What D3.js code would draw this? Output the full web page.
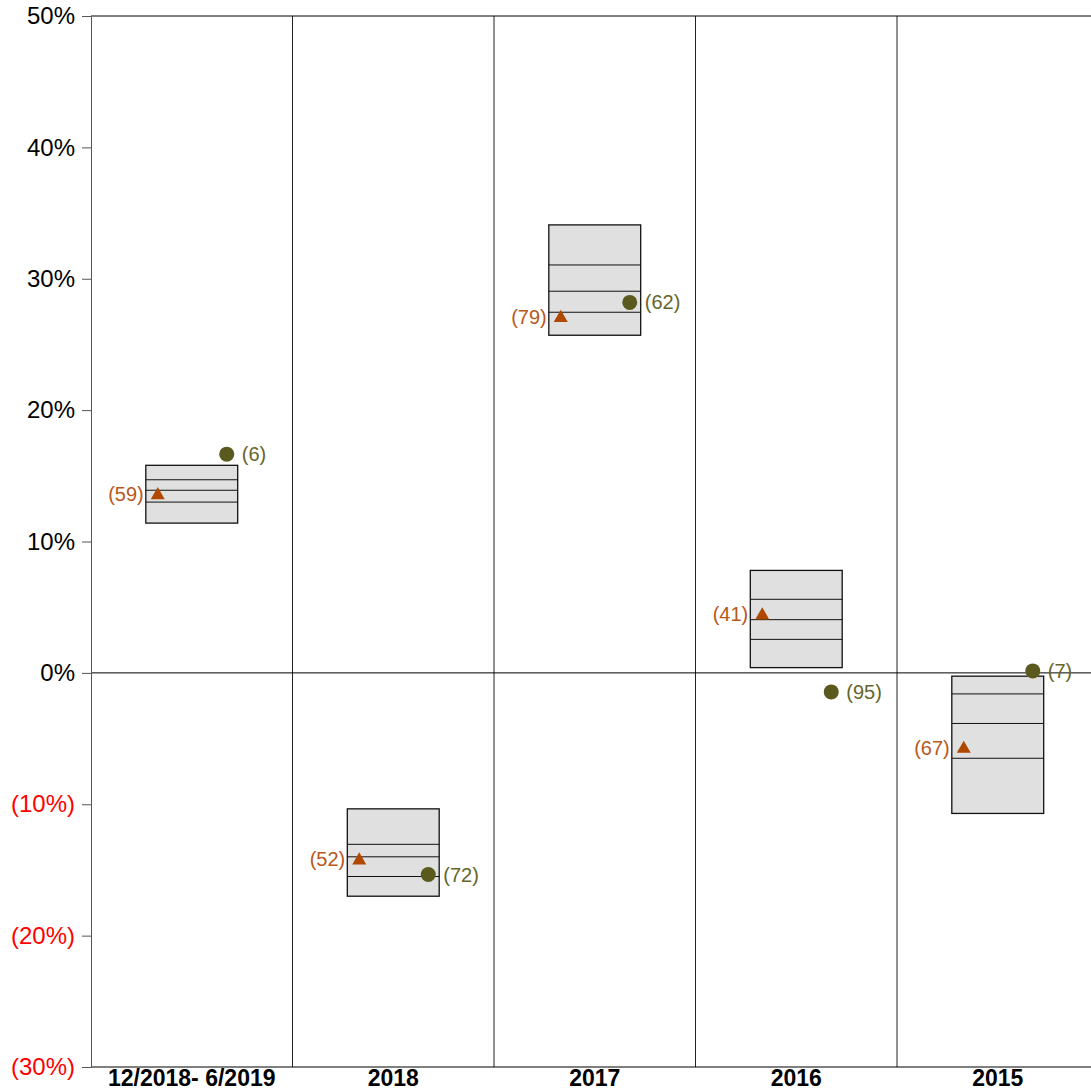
<!DOCTYPE html>
<html>
<head>
<meta charset="utf-8">
<script src="https://cdn.jsdelivr.net/npm/d3@7"></script>
<style>
  html, body { margin: 0; padding: 0; background: #fff; }
  svg { display: block; font-family: "Liberation Sans", Arial, sans-serif; }
</style>
</head>
<body>
<svg id="chart" width="1091" height="1091"></svg>
<script>
// Return ranges by period (percent)
const categories = ["12/2018- 6/2019", "2018", "2017", "2016", "2015"];
const boxTop     = [15.8, -10.35, 34.1, 7.8, -0.25];
const upperLine  = [14.7, -13.05, 31.05, 5.6, -1.6];
const medianLine = [13.9, -14.0, 29.05, 4.05, -3.85];
const lowerLine  = [13.0, -15.5, 27.45, 2.55, -6.5];
const boxBottom  = [11.4, -17.0, 25.7, 0.4, -10.7];

// Fund (triangle) and benchmark (circle) returns with percentile ranks
const triangleValues = [13.6, -14.2, 27.1, 4.45, -5.7];
const triangleRanks  = [59, 52, 79, 41, 67];
const circleValues   = [16.65, -15.35, 28.2, -1.45, 0.15];
const circleRanks    = [6, 72, 62, 95, 7];

const yTicks = [50, 40, 30, 20, 10, 0, -10, -20, -30];

const svg = d3.select("#chart");
const plotLeft = 91, plotRight = 1098.5, plotTop = 16, plotBottom = 1067;

const x = d3.scaleBand().domain(categories).range([plotLeft, plotRight]).padding(0);
const y = d3.scaleLinear().domain([-30, 50]).range([plotBottom, plotTop]);

const fmt = v => v < 0 ? `(${Math.abs(v)}%)` : `${v}%`;

const rows = categories.map((c, i) => ({
  c, hi: boxTop[i], lo: boxBottom[i],
  lines: [upperLine[i], medianLine[i], lowerLine[i]],
  tri: triangleValues[i], triRank: triangleRanks[i],
  cir: circleValues[i], cirRank: circleRanks[i]
}));

// column separators
svg.append("g").selectAll("line")
  .data(categories.slice(1))
  .join("line")
  .attr("x1", d => x(d)).attr("x2", d => x(d))
  .attr("y1", y(50)).attr("y2", y(-30))
  .attr("stroke", "#222").attr("stroke-width", 1);

// frame lines at top, bottom and zero
svg.append("g").selectAll("line")
  .data([50, 0, -30])
  .join("line")
  .attr("x1", plotLeft).attr("x2", plotRight)
  .attr("y1", d => y(d)).attr("y2", d => y(d))
  .attr("stroke", "#000").attr("stroke-width", 1);

// y axis
const yAxis = d3.axisLeft(y).tickValues(yTicks).tickSize(9).tickFormat(fmt).tickPadding(7);
const gy = svg.append("g").attr("transform", `translate(${plotLeft},0)`).call(yAxis);
gy.select(".domain").attr("stroke", "#555");
gy.selectAll(".tick line").attr("stroke", "#555");
gy.selectAll(".tick text")
  .attr("font-size", 24)
  .attr("font-family", "'Liberation Sans', Arial, sans-serif")
  .attr("fill", d => d < 0 ? "#ff0000" : "#000");

// category labels
svg.append("g").selectAll("text")
  .data(categories)
  .join("text")
  .attr("x", d => x(d) + x.bandwidth() / 2)
  .attr("y", 1086)
  .attr("text-anchor", "middle")
  .attr("font-size", 23)
  .attr("font-weight", "bold")
  .attr("fill", "#000")
  .text(d => d);

const boxW = x.bandwidth() * 0.456;
const cx = d => x(d.c) + x.bandwidth() / 2;

// range boxes
const boxes = svg.append("g").selectAll("g").data(rows).join("g");
boxes.append("rect")
  .attr("x", d => cx(d) - boxW / 2)
  .attr("width", boxW)
  .attr("y", d => y(d.hi))
  .attr("height", d => y(d.lo) - y(d.hi))
  .attr("fill", "#e0e0e0")
  .attr("stroke", "#111").attr("stroke-width", 1.3);
boxes.selectAll("line.q")
  .data(d => d.lines.map(v => ({ v, d })))
  .join("line")
  .attr("class", "q")
  .attr("x1", o => cx(o.d) - boxW / 2).attr("x2", o => cx(o.d) + boxW / 2)
  .attr("y1", o => y(o.v)).attr("y2", o => y(o.v))
  .attr("stroke", "#111").attr("stroke-width", 1);

// triangles
const triColor = "#b04800", triText = "#b8581c";
const tri = d3.symbol().type(d3.symbolTriangle).size(85);
svg.append("g").selectAll("path")
  .data(rows)
  .join("path")
  .attr("d", tri)
  .attr("transform", d => `translate(${cx(d) - 34},${y(d.tri) + 1})`)
  .attr("fill", triColor);
svg.append("g").selectAll("text")
  .data(rows)
  .join("text")
  .attr("x", d => cx(d) - 48)
  .attr("y", d => y(d.tri))
  .attr("dy", "0.35em")
  .attr("text-anchor", "end")
  .attr("font-size", 20)
  .attr("fill", triText)
  .text(d => `(${d.triRank})`);

// circles
const cirColor = "#5a5a1e", cirText = "#66662b";
svg.append("g").selectAll("circle")
  .data(rows)
  .join("circle")
  .attr("cx", d => cx(d) + 35)
  .attr("cy", d => y(d.cir))
  .attr("r", 7.5)
  .attr("fill", cirColor);
svg.append("g").selectAll("text")
  .data(rows)
  .join("text")
  .attr("x", d => cx(d) + 50)
  .attr("y", d => y(d.cir))
  .attr("dy", "0.35em")
  .attr("text-anchor", "start")
  .attr("font-size", 20)
  .attr("fill", cirText)
  .text(d => `(${d.cirRank})`);
</script>
</body>
</html>
